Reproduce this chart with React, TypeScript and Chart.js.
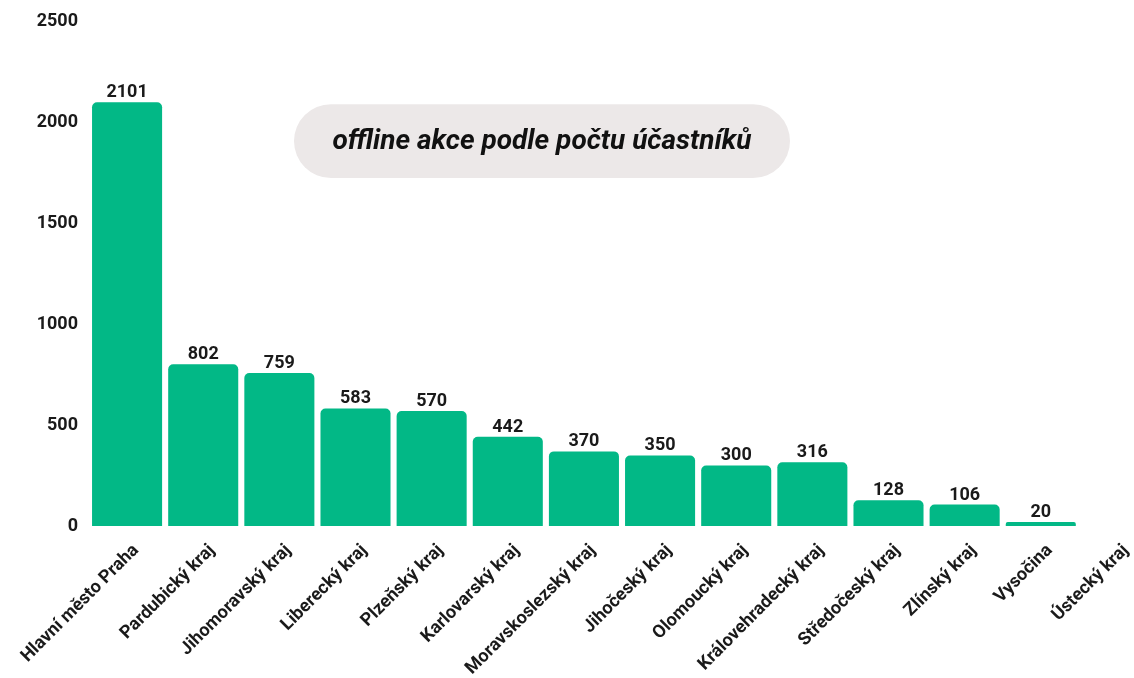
import React, { useEffect, useRef } from "react";
import { Chart, registerables } from "chart.js";

Chart.register(...registerables);

const categories = [
  "Hlavní město Praha",
  "Pardubický kraj",
  "Jihomoravský kraj",
  "Liberecký kraj",
  "Plzeňský kraj",
  "Karlovarský kraj",
  "Moravskoslezský kraj",
  "Jihočeský kraj",
  "Olomoucký kraj",
  "Královehradecký kraj",
  "Středočeský kraj",
  "Zlínský kraj",
  "Vysočina",
  "Ústecký kraj",
];
const values = [2101, 802, 759, 583, 570, 442, 370, 350, 300, 316, 128, 106, 20, 0];
const titleText = "offline akce podle počtu účastníků";
const yTicks = [0, 500, 1000, 1500, 2000, 2500];

const FONT = "Roboto, 'Noto Sans', sans-serif";
const TEXT = "#1a1a1a";
const BAR = "#02b886";

const valueLabels = {
  id: "valueLabels",
  afterDatasetsDraw(chart: any) {
    const ctx = chart.ctx;
    const meta = chart.getDatasetMeta(0);
    ctx.save();
    ctx.font = `bold 18px ${FONT}`;
    ctx.fillStyle = TEXT;
    ctx.textAlign = "center";
    ctx.textBaseline = "alphabetic";
    meta.data.forEach((el: any, i: number) => {
      const v = values[i];
      if (!v) return;
      ctx.fillText(String(v), el.x, el.y - 5);
    });
    ctx.restore();
  },
};

const pillTitle = {
  id: "pillTitle",
  afterDraw(chart: any) {
    const { ctx, chartArea } = chart;
    const w = chartArea.right - chartArea.left;
    const h = chartArea.bottom - chartArea.top;
    const left = chartArea.left + w * 0.1923;
    const right = chartArea.left + w * 0.6576;
    const top = chartArea.top + h * 0.1634;
    const bottom = chartArea.top + h * 0.3099;
    const r = (bottom - top) / 2;
    ctx.save();
    ctx.fillStyle = "#ece8e8";
    ctx.beginPath();
    ctx.moveTo(left + r, top);
    ctx.lineTo(right - r, top);
    ctx.arc(right - r, top + r, r, -Math.PI / 2, Math.PI / 2);
    ctx.lineTo(left + r, bottom);
    ctx.arc(left + r, top + r, r, Math.PI / 2, (3 * Math.PI) / 2);
    ctx.closePath();
    ctx.fill();
    ctx.font = `italic bold 28px ${FONT}`;
    ctx.fillStyle = "#111";
    ctx.textAlign = "center";
    ctx.textBaseline = "middle";
    ctx.fillText(titleText, (left + right) / 2, (top + bottom) / 2 + 1);
    ctx.restore();
  },
};

export default function App() {
  const ref = useRef<HTMLCanvasElement>(null);
  useEffect(() => {
    const canvas = ref.current!;
    const chart = new Chart(canvas, {
      type: "bar",
      data: {
        labels: categories,
        datasets: [
          {
            data: values,
            backgroundColor: BAR,
            borderRadius: 5,
            borderSkipped: "bottom",
            categoryPercentage: 1,
            barPercentage: 0.92,
          },
        ],
      },
      options: {
        responsive: false,
        animation: false,
        layout: { padding: { top: 20, right: 15, left: 0, bottom: 0 } },
        plugins: {
          legend: { display: false },
          tooltip: { enabled: false },
          title: { display: false },
        },
        scales: {
          x: {
            grid: { display: false, drawTicks: false },
            border: { display: false },
            ticks: {
              color: TEXT,
              font: { family: FONT, size: 18, weight: "bold" },
              minRotation: 45,
              maxRotation: 45,
              autoSkip: false,
              padding: 14,
              labelOffset: 9,
            },
            afterFit(scale: any) {
              scale.height = 152;
              scale.paddingLeft = 0;
              scale.paddingRight = 0;
            },
          },
          y: {
            min: 0,
            max: 2500,
            grid: { display: false, drawTicks: false },
            border: { display: false },
            afterBuildTicks(scale: any) {
              scale.ticks = yTicks.map((v) => ({ value: v }));
            },
            ticks: {
              color: TEXT,
              font: { family: FONT, size: 18, weight: "bold" },
              padding: 11,
              callback: (v: any) => String(v),
            },
            afterFit(scale: any) {
              scale.width = 89;
            },
          },
        },
      },
      plugins: [valueLabels, pillTitle],
    });
    return () => chart.destroy();
  }, []);
  return (
    <div
      style={{
        position: "fixed",
        left: 0,
        top: 0,
        width: 1134,
        height: 678,
        overflow: "hidden",
        background: "#fff",
      }}
    >
      <canvas ref={ref} width={1170} height={678} style={{ display: "block" }} />
    </div>
  );
}
